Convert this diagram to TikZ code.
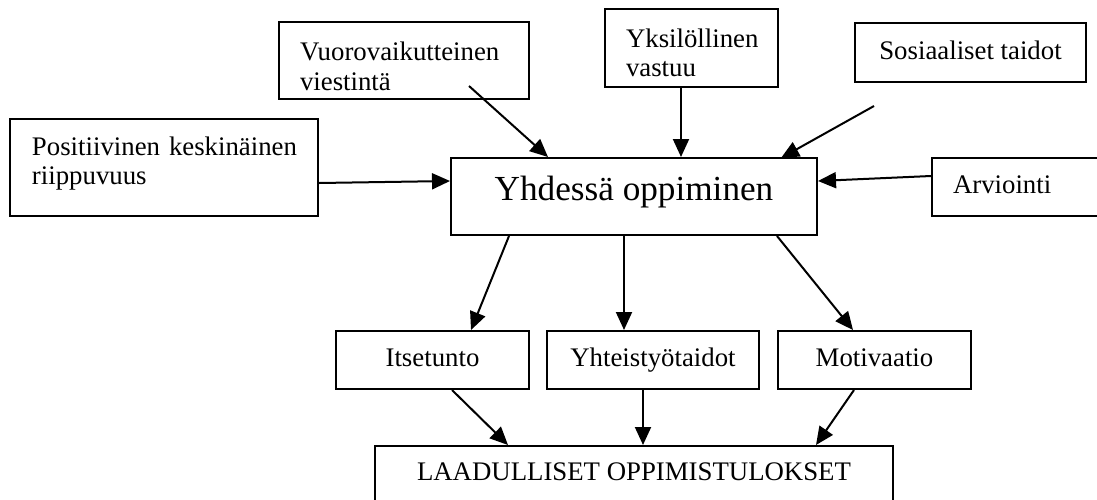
\documentclass[tikz,border=0pt]{standalone}
\usepackage{fontspec}
\setmainfont{Liberation Serif}
\usetikzlibrary{arrows.meta,calc}
\begin{document}
\begin{tikzpicture}[x=0.5pt,y=-0.5pt,
  box/.style={draw,line width=1pt,inner xsep=0pt,inner ysep=0pt,
    font=\fontsize{13.4}{14.8}\selectfont},
  one/.style={text height=9.5pt,text depth=2.8pt},
  arr/.style={-{Triangle[length=9pt,width=8pt]},line width=1pt}]
\useasboundingbox (0,0) rectangle (1097,499);
\clip (0,0) rectangle (1097,499);
\fill[white] (0,0) rectangle (1097,499);
% top row
\node[box,minimum width=125pt,minimum height=38.5pt,text width=104pt,align=left]
  (vuoro) at (404,60.5) {\rule{0pt}{15pt}Vuorovaikutteinen\\viestintä};
\node[box,minimum width=154.25pt,minimum height=48.5pt,text width=131.75pt,align=left]
  (posit) at (163.75,167.5) {\mbox{Positiivinen keskinäinen}\\riippuvuus\rule[-7pt]{0pt}{0pt}};
\node[box,minimum width=86.5pt,minimum height=39pt,text width=65.5pt,align=left]
  (yks) at (691.5,48) {\rule{0pt}{14pt}Yksilöllinen\\vastuu};
\node[box,one,minimum width=115.5pt,minimum height=29.5pt]
  (sos) at (970.5,52.5) {Sosiaaliset taidot};
\node[box,one,minimum width=89pt,minimum height=29pt,text width=68pt,align=left]
  (arv) at (1021,187) {Arviointi};
% centre
\node[box,minimum width=183pt,minimum height=38.5pt,text height=12pt,text depth=8.5pt,
  font=\fontsize{17.6}{20}\selectfont]
  (yhd) at (634,196.5) {Yhdessä oppiminen};
% middle row
\node[box,one,minimum width=96.5pt,minimum height=29pt] (its) at (432.5,360) {Itsetunto};
\node[box,one,minimum width=106pt,minimum height=29pt] (yht) at (653,360) {Yhteistyötaidot};
\node[box,one,minimum width=96.5pt,minimum height=29pt] (mot) at (874.5,360) {Motivaatio};
% bottom
\node[box,one,minimum width=259pt,minimum height=28pt] (laad) at (634,474) {LAADULLISET OPPIMISTULOKSET};
% connectors
\draw[arr] ($(vuoro.south west)+(191,-14)$) -- ($(yhd.north west)+(98,0)$);
\draw[arr] ($(posit.south east)+(0,-34)$) -- ($(yhd.north west)+(0,24)$);
\draw[arr] ($(yks.south west)+(77,0)$) -- ($(yhd.north west)+(231,0)$);
\draw[arr] ($(sos.south west)+(20,23)$) -- ($(yhd.north east)+(-37,1)$);
\draw[arr] ($(arv.north west)+(0,19)$) -- ($(yhd.north east)+(0,24)$);
\draw[arr] ($(yhd.south west)+(59,0)$) -- ($(its.north west)+(136,0)$);
\draw[arr] ($(yhd.south west)+(174,0)$) -- ($(yht.north west)+(78,0)$);
\draw[arr] ($(yhd.south west)+(327,0)$) -- ($(mot.north west)+(76,0)$);
\draw[arr] ($(its.south west)+(117,0)$) -- ($(laad.north west)+(134,0)$);
\draw[arr] ($(yht.south west)+(97,0)$) -- ($(laad.north west)+(269,0)$);
\draw[arr] ($(mot.south west)+(77,0)$) -- ($(laad.north west)+(442,0)$);
\end{tikzpicture}
\end{document}
